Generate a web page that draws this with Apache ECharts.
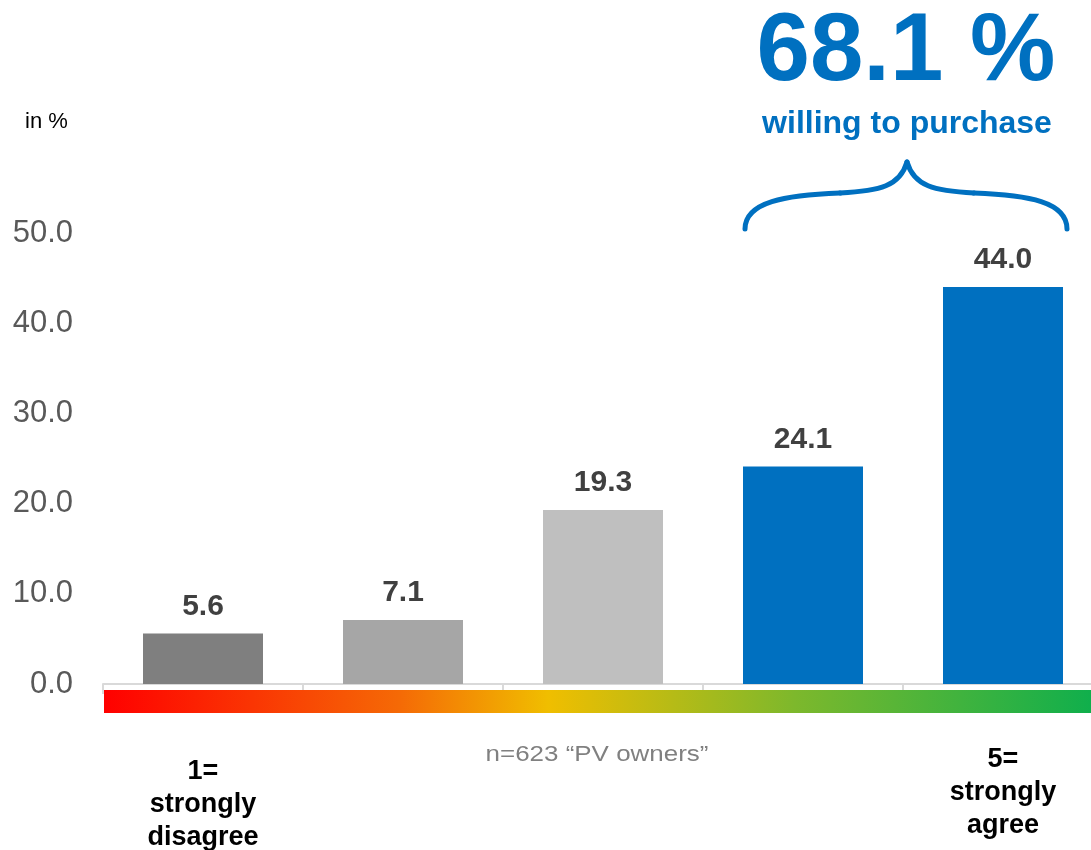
<!DOCTYPE html>
<html>
<head>
<meta charset="utf-8">
<script src="https://cdn.jsdelivr.net/npm/echarts@6/dist/echarts.min.js"></script>
<style>
  html, body { margin: 0; padding: 0; background: #fff; }
  #chart { width: 1091px; height: 850px; }
</style>
</head>
<body>
<div id="chart"></div>
<script>
// answers on a 1..5 agreement scale
var categories = ['1=\nstrongly\ndisagree', '', '', '', '5=\nstrongly\nagree'];
var shares = [5.6, 7.1, 19.3, 24.1, 44.0];
var barColors = ['#7F7F7F', '#A6A6A6', '#BFBFBF', '#0070C0', '#0070C0'];
var yTicks = [0, 10, 20, 30, 40, 50];

var myChart = echarts.init(document.getElementById('chart'));

// curly brace over the two "agree" bars, built from 4 bezier pieces
function braceSegment(x1, y1, c1x, c1y, c2x, c2y, x2, y2) {
    return {
        type: 'bezierCurve',
        shape: {x1: x1, y1: y1, cpx1: c1x, cpy1: c1y, cpx2: c2x, cpy2: c2y, x2: x2, y2: y2},
        style: {fill: null, stroke: '#0070C0', lineWidth: 5, lineCap: 'round'}
    };
}

var option = {
    animation: false,
    textStyle: {fontFamily: 'Liberation Sans, Arial, sans-serif'},
    // plot runs past the right edge of the canvas, like the original
    grid: {left: 103, width: 1000, top: 233, bottom: 166, outerBoundsMode: 'none', containLabel: false},
    xAxis: {
        type: 'category',
        data: categories.map(function (c, i) {
            // first label sits a bit lower than the last one
            return i === 0 ? {value: c, textStyle: {padding: [12, 0, 0, 0]}} : c;
        }),
        axisLine: {lineStyle: {color: '#D9D9D9', width: 2}},
        axisTick: {show: true, length: 10, lineStyle: {color: '#D9D9D9', width: 2}},
        axisLabel: {
            interval: 0,
            margin: 59,
            color: '#000',
            fontSize: 27,
            fontWeight: 'bold',
            lineHeight: 33
        }
    },
    yAxis: {
        type: 'value',
        min: yTicks[0],
        max: yTicks[yTicks.length - 1],
        interval: 10,
        splitLine: {show: false},
        axisLine: {show: false},
        axisTick: {show: false},
        axisLabel: {
            margin: 30,
            color: '#595959',
            fontSize: 31,
            formatter: function (v) { return v.toFixed(1); }
        }
    },
    series: [{
        type: 'bar',
        barWidth: 120,
        data: shares.map(function (v, i) {
            return {value: v, itemStyle: {color: barColors[i]}};
        }),
        label: {
            show: true,
            position: 'top',
            distance: 12,
            color: '#404040',
            fontSize: 30,
            fontWeight: 'bold',
            formatter: function (p) { return p.value.toFixed(1); }
        }
    }],
    graphic: [
        {
            type: 'rect',
            shape: {x: 104, y: 690, width: 987, height: 23},
            style: {
                fill: new echarts.graphic.LinearGradient(0, 0, 1, 0, [
                    {offset: 0, color: '#FF0000'},
                    {offset: 0.3, color: '#F56A06'},
                    {offset: 0.45, color: '#F0BE00'},
                    {offset: 0.7, color: '#7DB82C'},
                    {offset: 1, color: '#10AF4C'}
                ])
            },
            z: 10
        },
        {
            type: 'text',
            x: 25, y: 122,
            style: {
                text: 'in %', fill: '#000',
                font: '22px Liberation Sans, Arial, sans-serif',
                verticalAlign: 'middle'
            }
        },
        {
            type: 'text',
            x: 597, y: 755,
            scaleX: 1.18,
            style: {
                text: 'n=623 \u201cPV owners\u201d', fill: '#808080',
                font: '22px Liberation Sans, Arial, sans-serif',
                align: 'center', verticalAlign: 'middle'
            }
        },
        {
            type: 'text',
            x: 906, y: 54,
            style: {
                text: '68.1 %', fill: '#0070C0',
                font: 'bold 96px Liberation Sans, Arial, sans-serif',
                align: 'center', verticalAlign: 'middle'
            }
        },
        {
            type: 'text',
            x: 907, y: 124,
            style: {
                text: 'willing to purchase', fill: '#0070C0',
                font: 'bold 32px Liberation Sans, Arial, sans-serif',
                align: 'center', verticalAlign: 'middle'
            }
        },
        braceSegment(745, 229, 745, 202, 785, 195, 840, 193),
        braceSegment(840, 193, 880, 191, 900, 186, 907, 162),
        braceSegment(907, 162, 914, 186, 934, 191, 974, 193),
        braceSegment(974, 193, 1029, 195, 1067, 202, 1067, 229)
    ]
};

myChart.setOption(option);
</script>
</body>
</html>
